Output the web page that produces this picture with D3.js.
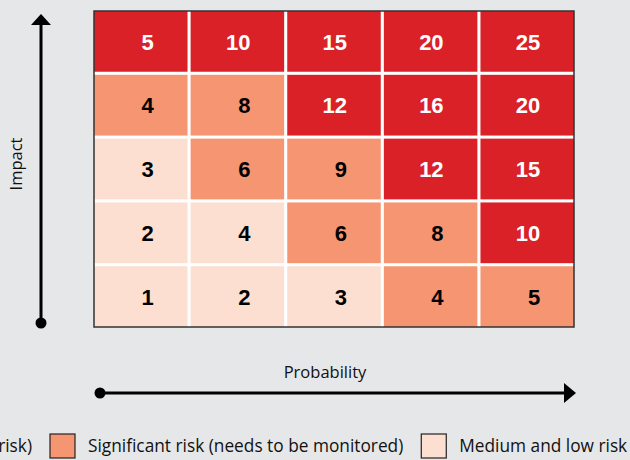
<!DOCTYPE html>
<html>
<head>
<meta charset="utf-8">
<script src="https://cdn.jsdelivr.net/npm/d3@7"></script>
<style>
  html, body { margin: 0; padding: 0; background: #e6e7e9; }
  svg { display: block; }
</style>
</head>
<body>
<svg id="chart" width="630" height="460"></svg>
<script>
// Risk matrix: probability (columns) x impact (rows)
const probability = [1, 2, 3, 4, 5];
const impact = [5, 4, 3, 2, 1];            // top row first
const scores = [
  [5, 10, 15, 20, 25],
  [4, 8, 12, 16, 20],
  [3, 6, 9, 12, 15],
  [2, 4, 6, 8, 10],
  [1, 2, 3, 4, 5]
];
// H = high, S = significant, M = medium/low
const levels = [
  ["H", "H", "H", "H", "H"],
  ["S", "S", "H", "H", "H"],
  ["M", "S", "S", "H", "H"],
  ["M", "M", "S", "S", "H"],
  ["M", "M", "M", "S", "S"]
];
const levelKeys = ["H", "S", "M"];
const levelColors = ["#da2128", "#f59572", "#fcdfd1"];
const levelText = ["#ffffff", "#000000", "#000000"];
const legendLabels = [
  "Critical risk (top risk)",
  "Significant risk (needs to be monitored)",
  "Medium and low risk"
];
const axisLabels = { x: "Probability", y: "Impact" };

const svg = d3.select("#chart");
const labelFont = "'Open Sans', 'Noto Sans', sans-serif";

const grid = { left: 94, right: 574, top: 11, bottom: 327 };

const x = d3.scaleBand().domain(probability).range([grid.left, grid.right]).paddingInner(0.032);
const y = d3.scaleBand().domain(impact).range([grid.top, grid.bottom]).paddingInner(0.048);
const fill = d3.scaleOrdinal().domain(levelKeys).range(levelColors);
const ink = d3.scaleOrdinal().domain(levelKeys).range(levelText);

// white backing shows through as cell gaps
svg.append("rect")
  .attr("x", grid.left).attr("y", grid.top)
  .attr("width", grid.right - grid.left).attr("height", grid.bottom - grid.top)
  .attr("fill", "#ffffff");

const cells = [];
impact.forEach((im, r) => probability.forEach((p, c) => {
  cells.push({ p, im, score: scores[r][c], level: levels[r][c] });
}));

svg.append("g").selectAll("rect").data(cells).join("rect")
  .attr("x", d => x(d.p))
  .attr("y", d => y(d.im))
  .attr("width", x.bandwidth())
  .attr("height", y.bandwidth())
  .attr("fill", d => fill(d.level));

svg.append("g").selectAll("text").data(cells).join("text")
  .attr("x", d => x(d.p) + x.bandwidth() / 2 + 13)
  .attr("y", d => y(d.im) + y.bandwidth() / 2)
  .attr("dy", "0.37em")
  .attr("text-anchor", "end")
  .attr("font-family", "'Liberation Sans', Arial, sans-serif")
  .attr("font-weight", "bold")
  .attr("font-size", 22)
  .attr("fill", d => ink(d.level))
  .text(d => d.score);

// outer frame
svg.append("rect")
  .attr("x", grid.left).attr("y", grid.top)
  .attr("width", grid.right - grid.left).attr("height", grid.bottom - grid.top)
  .attr("fill", "none").attr("stroke", "#333333").attr("stroke-width", 1.5);

// axis arrows
const yArrowX = 41, yArrowBottom = 323, yArrowTip = 14;
svg.append("line")
  .attr("x1", yArrowX).attr("x2", yArrowX)
  .attr("y1", yArrowBottom).attr("y2", yArrowTip + 10)
  .attr("stroke", "#000").attr("stroke-width", 3);
svg.append("circle").attr("cx", yArrowX).attr("cy", yArrowBottom).attr("r", 5.5).attr("fill", "#000");
svg.append("path")
  .attr("d", `M${yArrowX - 10},${yArrowTip + 11} L${yArrowX},${yArrowTip} L${yArrowX + 10},${yArrowTip + 11} Z`)
  .attr("fill", "#000");

const xArrowY = 393, xArrowLeft = 100, xArrowTip = 576;
svg.append("line")
  .attr("x1", xArrowLeft).attr("x2", xArrowTip - 10)
  .attr("y1", xArrowY).attr("y2", xArrowY)
  .attr("stroke", "#000").attr("stroke-width", 3);
svg.append("circle").attr("cx", xArrowLeft).attr("cy", xArrowY).attr("r", 5.5).attr("fill", "#000");
svg.append("path")
  .attr("d", `M${xArrowTip - 12},${xArrowY - 10} L${xArrowTip},${xArrowY} L${xArrowTip - 12},${xArrowY + 10} Z`)
  .attr("fill", "#000");

// axis titles
svg.append("text")
  .attr("x", 325).attr("y", 378)
  .attr("text-anchor", "middle")
  .attr("font-family", labelFont).attr("font-size", 16.5).attr("fill", "#111")
  .text(axisLabels.x);

svg.append("text")
  .attr("transform", "translate(22,164) rotate(-90)")
  .attr("text-anchor", "middle")
  .attr("font-family", labelFont).attr("font-size", 16.5).attr("fill", "#111")
  .text(axisLabels.y);

// legend: laid out left to right, running past both edges like the wide original strip
const legend = svg.append("g").attr("font-family", labelFont).attr("font-size", 17.3).attr("fill", "#111");
const sw = 25, gapText = 13, gapItem = 18, legendMid = 446;
const anchorEnd = 32; // right edge of the first label
const items = legend.selectAll("g").data(legendLabels).join("g");
items.append("text").attr("y", legendMid).attr("dy", "0.35em").text(d => d);
const widths = [];
items.select("text").each(function () { widths.push(this.getComputedTextLength()); });
let cursor = anchorEnd - widths[0] - gapText - sw;
items.each(function (d, i) {
  const g = d3.select(this);
  g.insert("rect", "text")
    .attr("x", cursor).attr("y", legendMid - 12)
    .attr("width", sw).attr("height", sw - 1)
    .attr("fill", levelColors[i]).attr("stroke", "#222").attr("stroke-width", 1.2);
  g.select("text").attr("x", cursor + sw + gapText);
  cursor += sw + gapText + widths[i] + gapItem;
});
</script>
</body>
</html>
